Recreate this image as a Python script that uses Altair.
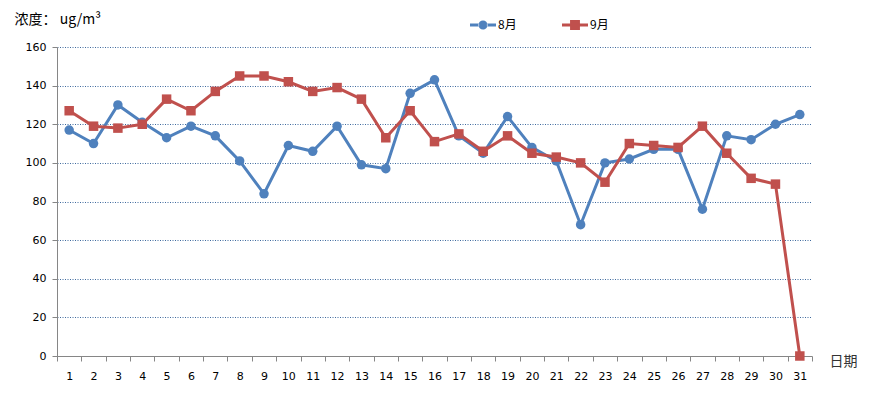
import altair as alt
import pandas as pd

days = list(range(1, 32))
aug = [117, 110, 130, 121, 113, 119, 114, 101, 84, 109, 106, 119, 99, 97, 136, 143,
       114, 105, 124, 108, 101, 68, 100, 102, 107, 107, 76, 114, 112, 120, 125]
sep = [127, 119, 118, 120, 133, 127, 137, 145, 145, 142, 137, 139, 133, 113, 127, 111,
       115, 106, 114, 105, 103, 100, 90, 110, 109, 108, 119, 105, 92, 89, 0]
series = ["8月", "9月"]
colors = ["#4F81BD", "#C0504D"]
x_ticks = [i / 2 for i in range(1, 64)]
y_ticks = [0, 20, 40, 60, 80, 100, 120, 140, 160]

rows = []
for d, a, s in zip(days, aug, sep):
    rows.append({"day": d, "value": a, "series": series[0]})
    rows.append({"day": d, "value": s, "series": series[1]})
df = pd.DataFrame(rows)

# legend symbols: short line with marker in the middle (unit coordinates)
circle_sym = ("M-1,-0.115 L-0.3,-0.115 L-0.3,0.115 L-1,0.115 Z "
              "M0.3,-0.115 L1,-0.115 L1,0.115 L0.3,0.115 Z "
              "M-0.35,0 A0.35,0.35 0 1,0 0.35,0 A0.35,0.35 0 1,0 -0.35,0 Z")
square_sym = ("M-1,-0.115 L-0.38,-0.115 L-0.38,0.115 L-1,0.115 Z "
              "M0.38,-0.115 L1,-0.115 L1,0.115 L0.38,0.115 Z "
              "M-0.38,-0.38 L0.38,-0.38 L0.38,0.38 L-0.38,0.38 Z")

x_enc = alt.X(
    "day:Q",
    scale=alt.Scale(domain=[0.5, 31.5], nice=False, zero=False),
    axis=alt.Axis(
        values=x_ticks,
        labelExpr="datum.value % 1 == 0 ? format(datum.value, 'd') : ''",
        labelOverlap=False,
        tickOpacity={"condition": {"test": "datum.value % 1 == 0", "value": 0}, "value": 1},
        grid=False,
        tickSize=5,
        tickColor="#868686",
        domainColor="#868686",
        labelPadding=9,
        labelFont="DejaVu Sans",
        labelFontSize=11,
        labelColor="#000000",
        labelFlush=False,
        title="日期",
        titleFont="Noto Sans CJK SC",
        titleFontSize=14,
        titleFontWeight="normal",
        titleColor="#333333",
        titleX=772,
        titleY=5,
        titleAlign="left",
        titleBaseline="middle",
        titleAngle=0,
    ),
)
y_enc = alt.Y(
    "value:Q",
    scale=alt.Scale(domain=[0, 160], nice=False),
    axis=alt.Axis(
        values=y_ticks,
        grid=True,
        gridColor="#3F6A9E",
        gridDash=[1, 1.5],
        gridWidth=1,
        tickSize=5,
        tickColor="#868686",
        domainColor="#868686",
        labelPadding=6,
        labelFont="DejaVu Sans",
        labelFontSize=11,
        labelColor="#000000",
        title="浓度： ug/m³",
        titleFont="Noto Sans CJK SC",
        titleFontSize=14,
        titleFontWeight="normal",
        titleColor="#000000",
        titleAngle=0,
        titleX=-43,
        titleY=-28,
        titleAlign="left",
        titleBaseline="middle",
    ),
)

color_nolegend = alt.Color("series:N", scale=alt.Scale(domain=series, range=colors), legend=None)

lines = alt.Chart(df).mark_line(strokeWidth=3).encode(
    x=x_enc, y=y_enc, color=color_nolegend, detail="series:N"
)

points = alt.Chart(df).mark_point(filled=True, opacity=1, size=90).encode(
    x=x_enc,
    y=y_enc,
    color=color_nolegend,
    shape=alt.Shape("series:N", scale=alt.Scale(domain=series, range=["circle", "square"]), legend=None),
)

leg_props = dict(
    title=None,
    orient="none",
    direction="horizontal",
    legendX=413,
    legendY=-35,
    symbolSize=676,
    symbolStrokeWidth=0,
    symbolOpacity=1,
    labelFont="Noto Sans CJK SC",
    labelFontSize=12,
    labelColor="#000000",
    labelOffset=2,
    columnPadding=45,
)

legend_layer = alt.Chart(df).mark_point(filled=True, opacity=1).encode(
    x=x_enc,
    y=y_enc,
    color=alt.Color("series:N", scale=alt.Scale(domain=series, range=colors), legend=alt.Legend(**leg_props)),
    shape=alt.Shape("series:N", scale=alt.Scale(domain=series, range=[circle_sym, square_sym]),
                    legend=alt.Legend(**leg_props)),
).transform_filter("false")

chart = (
    alt.layer(lines, points, legend_layer)
    .resolve_scale(color="independent", shape="independent")
    .properties(
        width=755,
        height=309,
        autosize=alt.AutoSizeParams(type="none"),
        padding={"left": 49, "top": 39, "right": 50, "bottom": 30},
        background="#ffffff",
    )
    .configure_view(stroke=None)
)

chart.save("out.html", embed_options={"renderer": "svg", "actions": False})
